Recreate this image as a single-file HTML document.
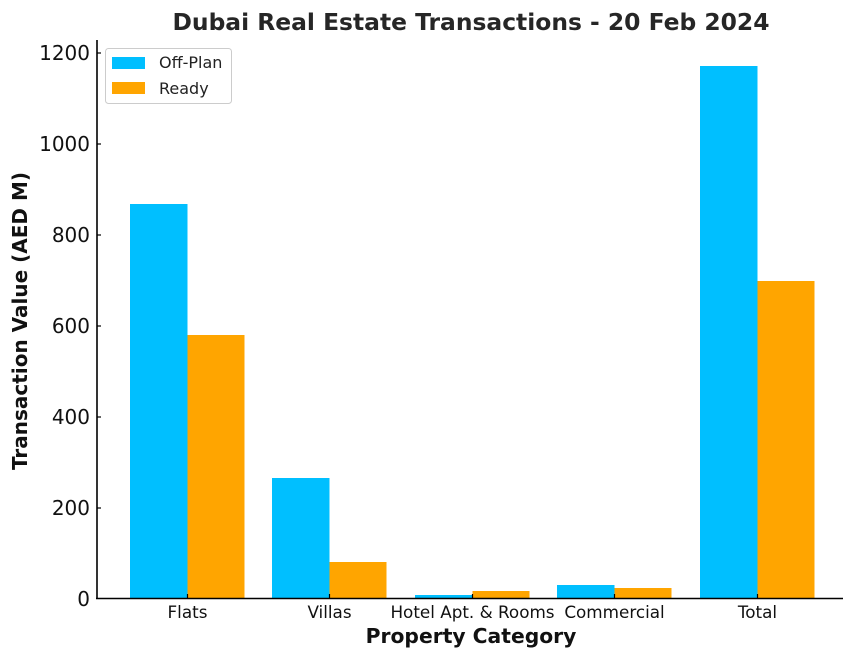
<!DOCTYPE html>
<html><head><meta charset="utf-8"><style>body{margin:0;background:#fff}svg{display:block}</style></head>
<body>
<svg width="859" height="660" xmlns="http://www.w3.org/2000/svg" font-family="DejaVu Sans, Liberation Sans, sans-serif">
<rect width="859" height="660" fill="#fff"/>
<text x="471" y="30" text-anchor="middle" font-size="23.4" font-weight="bold" fill="#262626">Dubai Real Estate Transactions - 20 Feb 2024</text>
<g fill="#00bfff">
<rect x="130" y="204" width="57.5" height="394"/>
<rect x="272" y="478" width="57.5" height="120"/>
<rect x="415" y="595" width="57.5" height="3"/>
<rect x="557" y="585" width="57.5" height="13"/>
<rect x="700" y="66" width="57.5" height="532"/>
</g>
<g fill="#ffa500">
<rect x="187.5" y="335" width="57" height="263"/>
<rect x="329.5" y="562" width="57" height="36"/>
<rect x="472.5" y="591" width="57" height="7"/>
<rect x="614.5" y="588" width="57" height="10"/>
<rect x="757.5" y="281" width="57" height="317"/>
</g>
<g stroke="#000" stroke-width="1.6" fill="none">
<line x1="97" y1="40" x2="97" y2="599"/>
<line x1="96" y1="598.5" x2="843" y2="598.5"/>
</g>
<g stroke="#000" stroke-width="1.2">
<line x1="97" y1="53" x2="101" y2="53"/><line x1="97" y1="144" x2="101" y2="144"/><line x1="97" y1="235" x2="101" y2="235"/><line x1="97" y1="326" x2="101" y2="326"/><line x1="97" y1="417" x2="101" y2="417"/><line x1="97" y1="508" x2="101" y2="508"/>
<line x1="187.5" y1="598" x2="187.5" y2="594"/><line x1="329.5" y1="598" x2="329.5" y2="594"/><line x1="472.5" y1="598" x2="472.5" y2="594"/><line x1="614.5" y1="598" x2="614.5" y2="594"/><line x1="757.5" y1="598" x2="757.5" y2="594"/>
</g>
<g font-size="20" fill="#111" text-anchor="end">
<text x="90" y="60">1200</text><text x="90" y="151">1000</text><text x="90" y="242">800</text><text x="90" y="333">600</text><text x="90" y="424">400</text><text x="90" y="515">200</text><text x="90" y="606">0</text>
</g>
<g font-size="16.8" fill="#111" text-anchor="middle">
<text x="187.5" y="618">Flats</text><text x="329.5" y="618">Villas</text><text x="472.5" y="618">Hotel Apt. &amp; Rooms</text><text x="614.5" y="618">Commercial</text><text x="757.5" y="618">Total</text>
</g>
<text x="471" y="643" text-anchor="middle" font-size="20.3" font-weight="bold" fill="#111">Property Category</text>
<text transform="translate(27,321) rotate(-90)" text-anchor="middle" font-size="20" font-weight="bold" fill="#111">Transaction Value (AED M)</text>
<rect x="105.5" y="48.5" width="126" height="55" rx="3" fill="#fff" stroke="#ccc"/>
<rect x="112" y="57" width="33" height="12" fill="#00bfff"/>
<rect x="112" y="82" width="33" height="12" fill="#ffa500"/>
<text x="159" y="68" font-size="16" fill="#222">Off-Plan</text>
<text x="159" y="94" font-size="16" fill="#222">Ready</text>
</svg>
</body></html>
